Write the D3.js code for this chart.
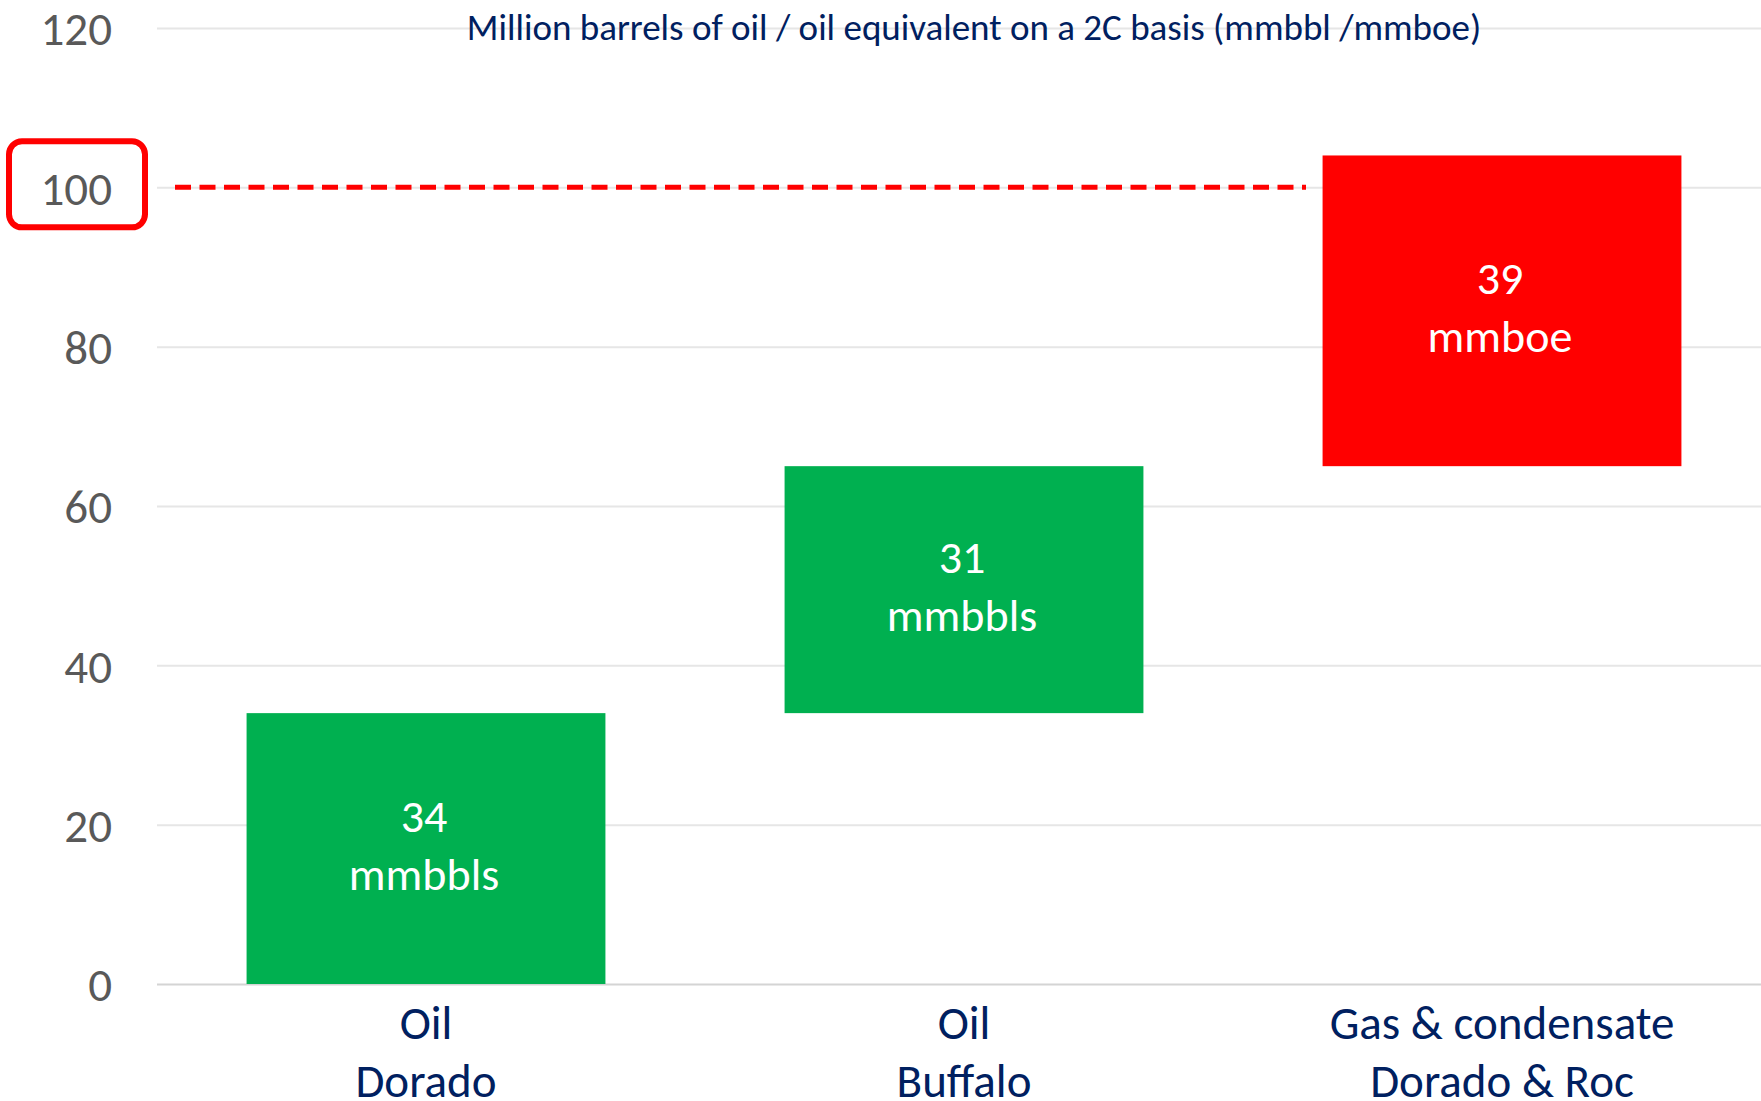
<!DOCTYPE html>
<html>
<head>
<meta charset="utf-8">
<script src="https://cdn.jsdelivr.net/npm/d3@7"></script>
<style>
  body { margin: 0; background: #fff; }
  svg { display: block; }
  svg text { font-family: Calibri, Carlito, Lato, sans-serif; }
</style>
</head>
<body>
<svg id="chart" width="1761" height="1101"></svg>
<script>
// chart data
const catTop = ['Oil', 'Oil', 'Gas & condensate'];
const catBottom = ['Dorado', 'Buffalo', 'Dorado & Roc'];
const values = [34, 31, 39];
const units = ['mmbbls', 'mmbbls', 'mmboe'];
const kinds = ['oil', 'oil', 'gas'];
const yTicks = [0, 20, 40, 60, 80, 100, 120];
const target = 100;
const subtitle = 'Million barrels of oil / oil equivalent on a 2C basis (mmbbl /mmboe)';

const color = { oil: '#00B050', gas: '#FF0000' };
const navy = '#002060';

const svg = d3.select('#chart');

const y = d3.scaleLinear().domain([0, 120]).range([984, 28]);
const x = d3
  .scaleBand()
  .domain(catTop.map((d, i) => i))
  .range([157, 1771])
  .paddingInner(0.333)
  .paddingOuter(0.1665);

// waterfall: each bar starts where the previous ended
const ends = Array.from(d3.cumsum(values));
const bars = values.map((v, i) => ({
  i,
  value: v,
  start: ends[i] - v,
  end: ends[i],
  unit: units[i],
  kind: kinds[i],
}));

// gridlines
svg
  .append('g')
  .attr('class', 'grid')
  .attr('transform', 'translate(157,0)')
  .call(d3.axisLeft(y).tickValues(yTicks).tickSize(-1604).tickFormat(''))
  .call((g) => g.select('.domain').remove())
  .call((g) =>
    g
      .selectAll('line')
      .attr('stroke', (d) => (d === 0 ? '#d4d4d4' : '#e6e6e6'))
      .attr('stroke-width', 2),
  );

// y tick labels
svg
  .append('g')
  .attr('transform', 'translate(112,0)')
  .call(d3.axisLeft(y).tickValues(yTicks).tickSize(0).tickPadding(0))
  .call((g) => g.select('.domain').remove())
  .call((g) =>
    g
      .selectAll('text')
      .attr('fill', '#595959')
      .style('font-size', '47px')
      .attr('dy', '0.36em'),
  );

// target line at 100
svg
  .append('line')
  .attr('x1', 175)
  .attr('x2', 1306)
  .attr('y1', y(target))
  .attr('y2', y(target))
  .attr('stroke', '#FF0000')
  .attr('stroke-width', 5)
  .attr('stroke-dasharray', '16,8.5');

// highlight box round the 100 label
svg
  .append('rect')
  .attr('x', 9)
  .attr('y', y(target) - 46)
  .attr('width', 136)
  .attr('height', 86)
  .attr('rx', 13)
  .attr('fill', 'none')
  .attr('stroke', '#FF0000')
  .attr('stroke-width', 6);

// bars
svg
  .selectAll('.bar')
  .data(bars)
  .join('rect')
  .classed('bar', true)
  .attr('x', (d) => x(d.i))
  .attr('width', x.bandwidth())
  .attr('y', (d) => y(d.end))
  .attr('height', (d) => y(d.start) - y(d.end))
  .attr('fill', (d) => color[d.kind]);

// bar labels
svg
  .selectAll('.bar-label')
  .data(bars)
  .join('text')
  .classed('bar-label', true)
  .attr('text-anchor', 'middle')
  .attr('fill', '#fff')
  .style('font-size', '46px')
  .call((t) =>
    t
      .append('tspan')
      .attr('x', (d) => x(d.i) + x.bandwidth() / 2 - 2)
      .attr('y', (d) => (y(d.start) + y(d.end)) / 2 - 17)
      .text((d) => d.value),
  )
  .call((t) =>
    t
      .append('tspan')
      .attr('x', (d) => x(d.i) + x.bandwidth() / 2 - 2)
      .attr('y', (d) => (y(d.start) + y(d.end)) / 2 + 41)
      .text((d) => d.unit),
  );

// category axis, two lines per tick
svg
  .append('g')
  .attr('transform', `translate(0,${y(0)})`)
  .call(d3.axisBottom(x).tickSize(0).tickFormat(''))
  .call((g) => g.select('.domain').remove())
  .call((g) =>
    g
      .selectAll('.tick text')
      .attr('fill', navy)
      .attr('dy', null)
      .style('font-size', '47px')
      .call((t) =>
        t.append('tspan').attr('x', 0).attr('y', 55).text((d) => catTop[d]),
      )
      .call((t) =>
        t.append('tspan').attr('x', 0).attr('y', 113).text((d) => catBottom[d]),
      ),
  );

// subtitle
svg
  .append('text')
  .attr('x', 974)
  .attr('y', 40)
  .attr('text-anchor', 'middle')
  .attr('fill', navy)
  .style('font-size', '37px')
  .text(subtitle);
</script>
</body>
</html>
